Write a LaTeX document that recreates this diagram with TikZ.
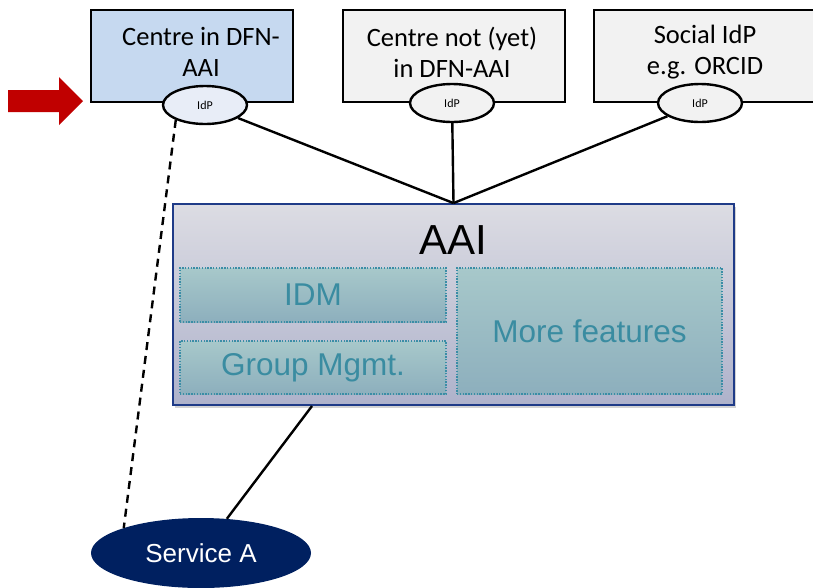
\documentclass[tikz,border=0pt]{standalone}
\usepackage{fontspec}
\setmainfont{Carlito}
\newfontfamily\arialf{Liberation Sans}
\usetikzlibrary{shapes.geometric,shadows}
\definecolor{boxblue}{HTML}{C6D9F0}
\definecolor{boxgray}{HTML}{F2F2F2}
\definecolor{idpblue}{HTML}{E8EDF7}
\definecolor{aaitop}{HTML}{DCDCE3}
\definecolor{aaibot}{HTML}{AEB2CB}
\definecolor{aaiborder}{HTML}{1F3B88}
\definecolor{innertop}{HTML}{A7C8CA}
\definecolor{innerbot}{HTML}{8DAFBD}
\definecolor{innerline}{HTML}{3A8DA6}
\definecolor{innertext}{HTML}{3A8CA1}
\definecolor{navy}{HTML}{002060}
\definecolor{arrowred}{HTML}{C00000}
\begin{document}
\begin{tikzpicture}[x=1pt,y=-1pt,
  topbox/.style={draw=black, line width=2.7pt, rectangle, inner sep=0pt},
  toptext/.style={align=center, font=\fontsize{26.5}{31}\selectfont, inner sep=0pt},
  idp/.style={draw=black, line width=2.4pt, ellipse, inner sep=0pt, minimum width=84pt, minimum height=38pt, font=\fontsize{12}{14}\selectfont},
  inner/.style={rectangle, draw=innerline, line width=1.4pt, dash pattern=on 1.4pt off 1.4pt, top color=innertop, bottom color=innerbot, text=innertext, font=\arialf\fontsize{31.5}{36}\selectfont, inner sep=0pt},
  conn/.style={draw=black, line width=2.4pt}
]
\useasboundingbox (0,0) rectangle (813,587);
% red arrow
\fill[arrowred] (8,90) -- (59,90) -- (59,77) -- (83,101) -- (59,125) -- (59,112) -- (8,112) -- cycle;
% top boxes
\node[topbox, fill=boxblue, minimum width=202pt, minimum height=92pt] (c1) at (192,56) {};
\node[topbox, fill=boxgray, minimum width=222pt, minimum height=92pt] (c2) at (454,56) {};
\node[topbox, fill=boxgray, minimum width=222pt, minimum height=92pt] (c3) at (705,56) {};
\node[toptext] (t1) at (201,52) {Centre in DFN-\\AAI};
\node[toptext] (t2) at (452,52) {Centre not (yet)\\in DFN-AAI};
\node[toptext] (t3) at (705,52) {Social IdP\\e.g. ORCID};
% AAI
\node[rectangle, draw=aaiborder, line width=1.8pt, top color=aaitop, bottom color=aaibot,
      minimum width=561pt, minimum height=201pt, inner sep=0pt,
      drop shadow={opacity=0.35, shadow xshift=2pt, shadow yshift=-3pt}] (aai) at (453.5,304.5) {};
\node[font=\arialf\fontsize{42}{48}\selectfont, inner sep=0pt] (aait) at (453,240) {AAI};
\node[inner, minimum width=266pt, minimum height=54pt] (idm) at (313,295) {IDM};
\node[inner, minimum width=266pt, minimum height=53pt] (grp) at (313,367.5) {Group Mgmt.};
\node[inner, minimum width=265pt, minimum height=126pt] (more) at (589.5,331) {More features};
% service
\node[ellipse, fill=navy, text=white, minimum width=220pt, minimum height=70pt, inner sep=0pt,
      font=\arialf\fontsize{26}{30}\selectfont] (svc) at (201,553) {Service A};
\coordinate (aaib) at (312,406);
\draw[conn] (aaib) -- (svc);
% IdP ellipses
\node[idp, fill=idpblue] (i1) at (205,105) {IdP};
\node[idp, fill=boxgray] (i2) at (452,103) {IdP};
\node[idp, fill=boxgray] (i3) at (700,103) {IdP};
\draw[conn] (i1) -- (aai.north);
\draw[conn] (i2) -- (aai.north);
\draw[conn] (i3) -- (aai.north);
\draw[conn, dash pattern=on 8pt off 6pt] (i1.207) -- (svc.162);
\end{tikzpicture}
\end{document}
